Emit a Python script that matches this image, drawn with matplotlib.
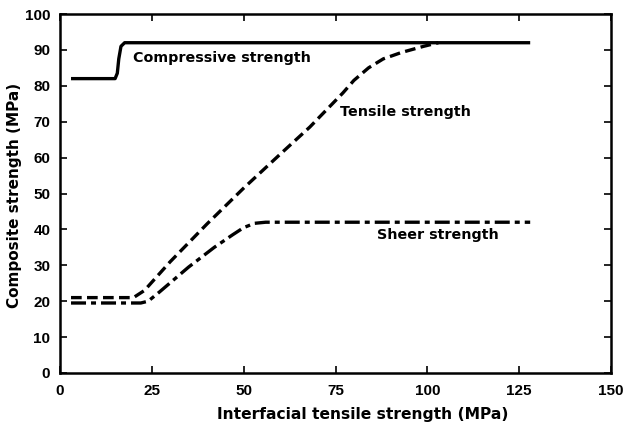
import matplotlib
matplotlib.use("Agg")
import matplotlib.pyplot as plt

# Data
comp_x = [3, 15, 15.6, 16.0, 16.6, 17.6, 128]
comp_y = [82, 82, 83.5, 87.5, 91, 92, 92]

tens_x = [3, 20, 23, 30, 40, 50, 60, 68, 77, 80, 84, 88, 93, 99, 103]
tens_y = [21, 21, 23, 31, 41.5, 51.5, 61, 68.5, 78, 81.5, 85, 87.5, 89.3, 91, 92]

shear_x = [3, 22, 24, 27, 35, 42, 47, 50, 53, 56, 128]
shear_y = [19.5, 19.5, 20, 22.5, 29.5, 35, 38.5, 40.5, 41.7, 42, 42]

xticks = [0, 25, 50, 75, 100, 125, 150]
yticks = [0, 10, 20, 30, 40, 50, 60, 70, 80, 90, 100]

plt.rcParams['font.family'] = ['DejaVu Sans']

fig = plt.figure(figsize=(6.23, 4.24), dpi=100)
ax = fig.add_axes([60/623, 1 - 373/424, (611-60)/623, (373-14)/424])

lw = 2.4
ax.plot(comp_x, comp_y, color='black', lw=lw, solid_capstyle='butt', solid_joinstyle='round')
ax.plot(tens_x, tens_y, color='black', lw=lw, linestyle=(0, (3.2, 1.6)))
ax.plot(shear_x, shear_y, color='black', lw=lw, linestyle=(0, (4.5, 1.5, 1.5, 1.5)))

ax.text(20, 87.7, 'Compressive strength', fontsize=10.3, fontweight='bold', va='center', ha='left')
ax.text(76.2, 72.7, 'Tensile strength', fontsize=10.3, fontweight='bold', va='center', ha='left')
ax.text(86.3, 38.4, 'Sheer strength', fontsize=10.3, fontweight='bold', va='center', ha='left')

ax.set_xlim(0, 150)
ax.set_ylim(0, 100)
ax.set_xticks(xticks)
ax.set_yticks(yticks)
ax.tick_params(direction='in', top=True, right=True, length=5, width=1.2)
ax.tick_params(axis='x', pad=8)
ax.tick_params(axis='y', pad=7)
for lab in ax.get_xticklabels() + ax.get_yticklabels():
    lab.set_fontweight('bold')
    lab.set_family('Liberation Sans')
    lab.set_fontsize(11)
for s in ax.spines.values():
    s.set_linewidth(1.8)

ax.set_xlabel('Interfacial tensile strength (MPa)', fontsize=11.2, fontweight='bold')
ax.set_ylabel('Composite strength (MPa)', fontsize=11.0, fontweight='bold')
ax.xaxis.set_label_coords((363-60)/(611-60), -0.095)
ax.yaxis.set_label_coords((22-60)/551, 0.495)

fig.savefig('out.png', dpi=100)
